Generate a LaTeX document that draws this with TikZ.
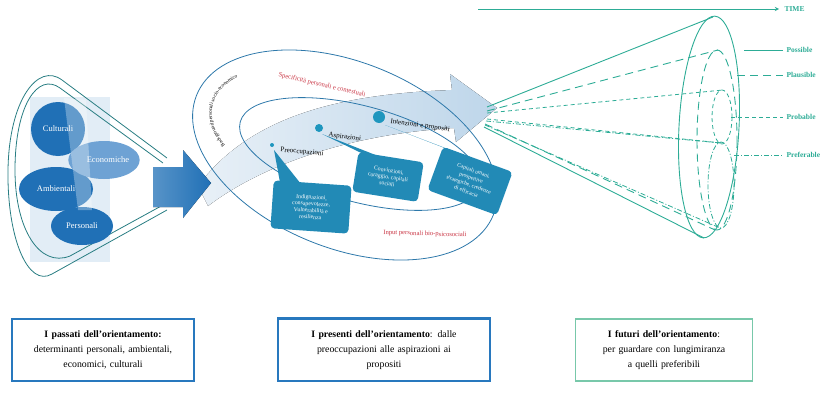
\documentclass[tikz,border=0pt]{standalone}
\usepackage{fontspec}
\setmainfont{Liberation Serif}
\usetikzlibrary{shapes.geometric,decorations.text,calc}
\definecolor{conecol}{RGB}{45,172,150}
\definecolor{funcol}{RGB}{40,125,130}
\definecolor{darkblue}{RGB}{32,112,182}
\definecolor{midblue}{RGB}{110,162,212}
\definecolor{ellcol}{RGB}{45,120,170}
\definecolor{callcol}{RGB}{34,138,182}
\definecolor{dotcol}{RGB}{30,150,190}
\definecolor{redtxt}{RGB}{200,50,65}
\definecolor{boxblue}{RGB}{40,120,190}
\definecolor{boxgreen}{RGB}{120,200,170}
\definecolor{bandcol}{RGB}{190,214,234}
\definecolor{bandlight}{RGB}{232,240,247}
\begin{document}
\begin{tikzpicture}[x=1pt,y=-1pt,
  funnel/.style={draw=funcol,line width=0.8pt},
  blob/.style={ellipse,fill=darkblue,text=white,inner sep=0pt,font=\fontsize{8.5}{9}\selectfont},
  midell/.style={draw=ellcol,line width=0.8pt},
  dot/.style={circle,fill=dotcol,inner sep=0pt},
  steplbl/.style={font=\fontsize{7}{8}\selectfont,anchor=west},
  callout/.style={rectangle,rounded corners=4pt,fill=callcol,text=white,align=center,
     inner sep=1pt,font=\fontsize{5.8}{6.6}\selectfont},
  redlbl/.style={text=redtxt,font=\fontsize{6.6}{7}\selectfont},
  cone/.style={draw=conecol,line width=0.9pt},
  conelbl/.style={text=conecol,anchor=west,font=\bfseries\fontsize{7.5}{8}\selectfont},
  bbox/.style={line width=1.1pt,align=center,text width=170pt,minimum height=62pt,
     font=\fontsize{9.8}{15}\selectfont}]
\useasboundingbox (0,0) rectangle (826,396);

% ---------------- left funnel ----------------
\fill[bandcol!45] (30,97) rectangle (110,262);
\draw[funnel] (167,158) -- (62,80) .. controls (38,62) and (9,100) .. (8,170)
  .. controls (7,238) and (28,288) .. (52,274) -- (167,210);
\draw[funnel] (163,163) -- (60,88) .. controls (38,72) and (15,105) .. (15,170)
  .. controls (15,230) and (40,268) .. (70,256) -- (163,205);
\node[blob,circle,minimum size=54pt] (cul) at (58,129) {Culturali};
\node[blob,minimum width=74pt,minimum height=44pt] (amb) at (56,189) {Ambientali};
\node[blob,fill=midblue,minimum width=68pt,minimum height=38pt] (eco) at (104,160) {\hspace*{8pt}Economiche};
\node[blob,minimum width=62pt,minimum height=38pt] (per) at (82,226) {Personali};
\fill[white,opacity=0.3] (64,98) -- (86,100) -- (92,210) -- (78,210) -- cycle;

% ---------------- light curved band arrow ----------------
\fill[left color=bandlight,right color=bandcol]
  (198,186) .. controls (250,116) and (340,94) .. (452,90) -- (450,74) -- (497,108)
  -- (456,142) -- (454,128) .. controls (350,134) and (262,165) .. (208,206) -- cycle;

% ---------------- big blue arrow ----------------
\fill[left color=darkblue!75,right color=darkblue] (153,167) -- (183,167) -- (183,150) -- (211,183)
  -- (183,218) -- (183,207) -- (153,207) -- cycle;

% ---------------- middle ellipses ----------------
\draw[midell,rotate around={-22:(345,155)}] (345,155) ellipse [x radius=160,y radius=93];
\draw[midell,rotate around={-15:(360,154)}] (360,154) ellipse [x radius=124,y radius=48];

\path[decorate,decoration={text along path,text align=center,
  text={|\fontsize{5.2}{6}\selectfont|Background personali socio-economico}}]
  (236,156) .. controls (198,125) and (206,84) .. (252,72);

\node[redlbl,rotate=-13] (spec) at (322,85) {Specificità personali e contestuali};
\node[redlbl,rotate=-2] (inp) at (425,234) {Input personali bio-psicosociali};

% dots and labels
\node[dot,minimum size=4pt] (d1) at (272,145) {};
\node[dot,minimum size=8pt] (d2) at (319,128) {};
\node[dot,minimum size=12pt] (d3) at (379,117) {};
\node[steplbl,rotate=-5] (l1) at (277,150) {Preoccupazioni};
\node[steplbl,rotate=-7] (l2) at (325,135) {Aspirazioni};
\node[steplbl,rotate=-8] (l3) at (387,121) {Intenzioni e propositi};

% callouts
\node[callout,rotate=-4,minimum width=78pt,minimum height=48pt] (b1) at (311,207)
  {Indignazioni,\\consapevolezze,\\Vulnerabilità e\\resilienza};
\node[callout,rotate=-9,minimum width=66pt,minimum height=40pt] (b2) at (388,177)
  {Convinzioni,\\coraggio, capitali\\sociali};
\node[callout,rotate=-20,minimum width=74pt,minimum height=46pt,
  font=\fontsize{5.6}{7.4}\selectfont] (b3) at (470,181)
  {Capitali umani,\\prospettive\\strategiche, credenze\\di efficacia};
\fill[callcol] ($(d1.center)+(2,5)$) -- ($(b1.north west)!0.08!(b1.north east)+(0,1)$)
  -- ($(b1.north west)!0.34!(b1.north east)+(0,1)$) -- cycle;
\fill[callcol] ($(d2.center)+(3,6)$) -- ($(b2.north west)!0.06!(b2.north east)+(0,1)$)
  -- ($(b2.north west)!0.30!(b2.north east)+(0,1)$) -- cycle;
\fill[callcol] ($(d3.center)+(6,8)$) -- ($(b3.north west)!0.05!(b3.north east)+(0,1)$)
  -- ($(b3.north west)!0.28!(b3.north east)+(0,1)$) -- cycle;

% ---------------- right cone ----------------
\coordinate (t0) at (478,9);
\coordinate (t1) at (779,9);
\draw[cone,-stealth] (t0) -- (t1);
\node[conelbl,font=\bfseries\fontsize{7.5}{8}\selectfont] (time) at (781,9) {TIME};

\coordinate (apex1) at (487,107);
\coordinate (apex2) at (484,127);
\coordinate (otop) at (713,17);
\coordinate (obot) at (704,238);
\draw[cone,rotate around={-3:(709,127)}] (709,127) ellipse [x radius=30,y radius=111];
\draw[cone] (apex1) -- (otop);
\draw[cone] (apex2) -- (obot);

% plausible
\coordinate (ptop) at (718,50);
\coordinate (pbot) at (715,230);
\draw[cone,dash pattern=on 8pt off 5pt] (717,140) ellipse [x radius=20,y radius=90];
\draw[cone,dash pattern=on 8pt off 5pt] (487,111) -- (ptop);
\draw[cone,dash pattern=on 8pt off 5pt] (485,124) -- (pbot);

% probable
\coordinate (prtop) at (723,90);
\coordinate (prbot) at (722,143);
\draw[cone,line width=0.8pt,dash pattern=on 4pt off 3pt] (722,117) ellipse [x radius=10,y radius=27];
\draw[cone,line width=0.8pt,dash pattern=on 4pt off 3pt] (487,113) -- (prtop);
\draw[cone,line width=0.8pt,dash pattern=on 4pt off 3pt] (487,119) -- (prbot);

% preferable
\coordinate (pftop) at (721,143);
\coordinate (pfbot) at (720,228);
\draw[cone,line width=0.8pt,dash pattern=on 5pt off 2pt on 1pt off 2pt] (721,185) ellipse [x radius=13,y radius=43];
\draw[cone,line width=0.8pt,dash pattern=on 5pt off 2pt on 1pt off 2pt] (486,121) -- (pftop);
\draw[cone,line width=0.8pt,dash pattern=on 5pt off 2pt on 1pt off 2pt] (485,125) -- (pfbot);

% cone labels
\node[conelbl] (lposs) at (783,50) {Possible};
\node[conelbl] (lplau) at (783,75) {Plausible};
\node[conelbl] (lprob) at (783,117) {Probable};
\node[conelbl] (lpref) at (783,155) {Preferable};
\draw[cone] (744,50) -- (lposs.west);
\draw[cone,dash pattern=on 8pt off 5pt] (737,75) -- (lplau.west);
\draw[cone,line width=0.8pt,dash pattern=on 4pt off 3pt] (731,117) -- (lprob.west);
\draw[cone,line width=0.8pt,dash pattern=on 5pt off 2pt on 1pt off 2pt] (734,155) -- (lpref.west);

% ---------------- bottom boxes ----------------
\node[bbox,draw=boxblue,minimum width=182pt] (p1) at (103,350)
  {\textbf{I passati dell’orientamento:}\\determinanti personali, ambientali,\\economici, culturali};
\node[bbox,draw=boxblue,minimum width=212pt,text width=200pt] (p2) at (384,350)
  {\textbf{I presenti dell’orientamento}: dalle\\preoccupazioni alle aspirazioni ai\\propositi};
\node[bbox,draw=boxgreen,minimum width=172pt] (p3) at (664,350)
  {\textbf{I futuri dell’orientamento}:\\per guardare con lungimiranza\\a quelli preferibili};
\draw[boxblue,line width=2pt] (p2.north west) -- (p2.north east);
\end{tikzpicture}
\end{document}
